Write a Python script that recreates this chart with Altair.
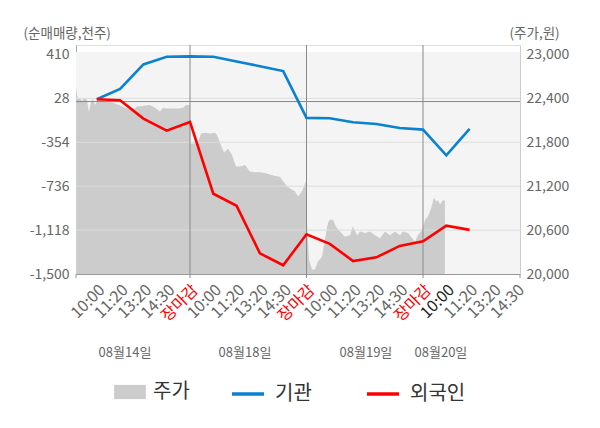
import json
import altair as alt
import pandas as pd

# ---- data ----
time_labels = ["10:00", "11:20", "13:20", "14:30", "장마감"] * 3 + ["10:00", "11:20", "13:20", "14:30"]
date_labels = ["08월14일", "08월18일", "08월19일", "08월20일"]
date_pos = [1.21, 6.36, 11.55, 14.77]
close_idx = [4, 9, 14]
x_domain = [-0.893, 18.163]

left_ticks = [410, 28, -354, -736, -1118, -1500]
grid_ticks = [28, -354, -736, -1118]
right_ticks = [20000, 20600, 21200, 21800, 22400, 23000]

price_t = [-0.89, -0.85, -0.81, -0.72, -0.63, -0.55, -0.42, -0.34, -0.25, -0.16, -0.08,
           0.05, 0.14, 0.35, 0.57, 0.65, 0.78, 1.00, 1.08, 1.21, 1.43, 1.64, 1.73, 1.90,
           2.07, 2.28, 2.50, 2.71, 2.84, 3.01, 3.23, 3.49, 3.70, 3.83, 3.99,
           4.02, 4.34, 4.47, 4.64, 4.86, 5.07, 5.16, 5.29, 5.46, 5.63, 5.80, 5.97, 6.15,
           6.36, 6.57, 6.79, 7.00, 7.22, 7.43, 7.65, 7.86, 7.99, 8.16, 8.29, 8.50, 8.64,
           8.81, 8.98,
           9.02, 9.11, 9.24, 9.36, 9.49, 9.67, 9.79, 9.92, 10.00, 10.14, 10.26, 10.44,
           10.65, 10.87, 10.99, 11.17, 11.30, 11.51, 11.73, 11.94, 12.15, 12.37, 12.58,
           12.80, 13.01, 13.14, 13.36, 13.53, 13.66, 13.78, 13.96,
           14.09, 14.22, 14.35, 14.47, 14.56, 14.64, 14.73, 14.86, 14.94]
price_v = [22560, 22450, 22390, 22400, 22360, 22400, 22380, 22210, 22350, 22390, 22310,
           22380, 22380, 22370, 22360, 22340, 22330, 22300, 22290, 22270, 22250, 22260, 22290, 22290,
           22300, 22310, 22270, 22220, 22270, 22260, 22260, 22260, 22270, 22310, 22310,
           21780, 21790, 21920, 21930, 21920, 21930, 21900, 21790, 21660, 21710, 21630, 21470, 21470,
           21490, 21400, 21390, 21390, 21380, 21360, 21340, 21330, 21270, 21200, 21170, 21130, 21060,
           21130, 21270,
           20700, 20190, 20060, 20060, 20170, 20240, 20470, 20700, 20740, 20740, 20650, 20580,
           20510, 20530, 20650, 20530, 20580, 20560, 20580, 20530, 20490, 20580, 20530,
           20580, 20530, 20580, 20560, 20490, 20440, 20530, 20600,
           20740, 20790, 20900, 21040, 20990, 21010, 20950, 21010, 21000]

inst_vals = [20, 110, 323, 390, 393, 390, 349, 308, 265, -142, -145, -180, -195, -230, -244, -468, -238]
foreign_vals = [20, 12, -148, -253, -177, -802, -907, -1320, -1424, -1154, -1238, -1387, -1355,
                -1256, -1215, -1079, -1116]

series_names = ["기관", "외국인"]
series_colors = ["#0a82d2", "#ff0000"]

# ---- tables ----
price_df = pd.DataFrame({"t": price_t, "p": price_v, "s": "주가"})
lines_df = pd.concat([
    pd.DataFrame({"t": list(range(len(inst_vals))), "v": inst_vals, "series": "기관"}),
    pd.DataFrame({"t": list(range(len(foreign_vals))), "v": foreign_vals, "series": "외국인"}),
])
grid_df = pd.DataFrame({"v": grid_ticks})
close_df = pd.DataFrame({"t": close_idx})
edge_df = pd.DataFrame({"t": x_domain})
date_df = pd.DataFrame({"t": date_pos, "label": date_labels})

W, H = 444, 229
FONT = "Noto Sans CJK KR"

xscale = alt.Scale(domain=x_domain, nice=False, zero=False)
lscale = alt.Scale(domain=[-1500, 492], nice=False, zero=False)
rscale = alt.Scale(domain=[20000, 23128], nice=False, zero=False)

label_js = json.dumps(time_labels, ensure_ascii=False).replace('"', "'")

xaxis = alt.Axis(
    values=list(range(len(time_labels))),
    labelExpr=label_js + "[datum.value]",
    labelAngle=-45, labelAlign="right", labelBaseline="middle", labelPadding=13,
    labelOffset=5,
    ticks=False, grid=False, domainColor="#999999", title=None,
    labelFontSize=16, labelFont=FONT,
    labelColor={"condition": [{"test": "datum.value == 15", "value": "#222222"},
                              {"test": "datum.value % 5 == 4", "value": "#ff0000"}],
                "value": "#666666"},
    labelOverlap=False, labelFlush=False, labelBound=False,
)

num_expr = "replace(format(datum.value, ',d'), '\u2212', '-')"

laxis = alt.Axis(
    values=left_ticks, labelExpr=num_expr, grid=False, ticks=False, domainColor="#aaaaaa",
    labelColor="#666666", labelFontSize=14, labelPadding=7, labelOverlap=False,
    labelFont=FONT,
    title="(순매매량,천주)", titleAngle=0, titleAlign="left", titleBaseline="middle",
    titleX=-53, titleY=-12, titleColor="#666666", titleFontSize=13.5,
    titleFontWeight="normal", titleFont=FONT, orient="left",
)
raxis = alt.Axis(
    values=right_ticks, format=",d", grid=False, ticks=False, domainColor="#cccccc",
    labelColor="#666666", labelFontSize=14, labelPadding=6, labelOverlap=False,
    labelFont=FONT,
    title="(주가,원)", titleAngle=0, titleAlign="left", titleBaseline="middle",
    titleX=-11, titleY=-12, titleColor="#666666", titleFontSize=13.5,
    titleFontWeight="normal", titleFont=FONT, orient="right",
)

bg = alt.Chart(pd.DataFrame({"a": [0]})).mark_rect(fill="#f4f4f4").encode(
    x=alt.value(0), x2=alt.value(W), y=alt.value(7), y2=alt.value(H)
)

area = alt.Chart(price_df).mark_area(color="#cccccc", interpolate="linear").encode(
    x=alt.X("t:Q", scale=xscale, axis=xaxis),
    y=alt.Y("p:Q", scale=rscale, axis=raxis),
    y2=alt.datum(20000),
    fill=alt.Fill("s:N", scale=alt.Scale(domain=["주가"], range=["#cccccc"]),
                  legend=alt.Legend(title=None, orient="none", legendX=38, legendY=331,
                                    symbolType="M-1,-0.45L1,-0.45L1,0.45L-1,0.45Z",
                                    symbolSize=1005, symbolStrokeWidth=0,
                                    labelFontSize=20, labelColor="#333333", labelFont=FONT,
                                    labelOffset=7, padding=0)),
)

grid = alt.Chart(grid_df).mark_rule(color="#dddddd", strokeWidth=1).encode(
    y=alt.Y("v:Q", scale=lscale, axis=laxis),
)
zero = alt.Chart(pd.DataFrame({"v": [0]})).mark_rule(color="#888888", strokeWidth=1).encode(
    y=alt.Y("v:Q", scale=lscale, axis=laxis),
)
vlines = alt.Chart(close_df).mark_rule(color="#8a8a8a", strokeWidth=1).encode(
    x=alt.X("t:Q", scale=xscale, axis=xaxis),
    y=alt.value(0), y2=alt.value(H + 4),
)
edges = alt.Chart(edge_df).mark_rule(color="#999999", strokeWidth=1).encode(
    x=alt.X("t:Q", scale=xscale, axis=xaxis),
    y=alt.value(H), y2=alt.value(H + 4),
)
lines = alt.Chart(lines_df).mark_line(strokeWidth=2.6).encode(
    x=alt.X("t:Q", scale=xscale, axis=xaxis),
    y=alt.Y("v:Q", scale=lscale, axis=laxis),
    stroke=alt.Stroke("series:N", scale=alt.Scale(domain=series_names, range=series_colors),
                      legend=alt.Legend(title=None, orient="none", direction="horizontal",
                                        legendX=154, legendY=331, symbolType="stroke",
                                        symbolSize=1024, symbolStrokeWidth=3.5,
                                        labelFontSize=20, labelColor="#333333", labelFont=FONT,
                                        labelOffset=9, columnPadding=48, padding=0)),
    detail="series:N",
)
dates = alt.Chart(date_df).mark_text(fontSize=13, color="#666666", font=FONT, baseline="middle").encode(
    x=alt.X("t:Q", scale=xscale, axis=xaxis),
    y=alt.value(308),
    text="label:N",
)

left_group = alt.layer(grid, zero, vlines, edges, lines, dates)

chart = alt.layer(bg, area, left_group).resolve_scale(y="independent").properties(
    width=W, height=H,
    autosize=alt.AutoSizeParams(type="none"),
    padding={"left": 68, "top": 37, "right": 72, "bottom": 140},
).configure_view(stroke=None).configure(font=FONT)

chart.save("out.html", embed_options={"renderer": "svg", "actions": False})
